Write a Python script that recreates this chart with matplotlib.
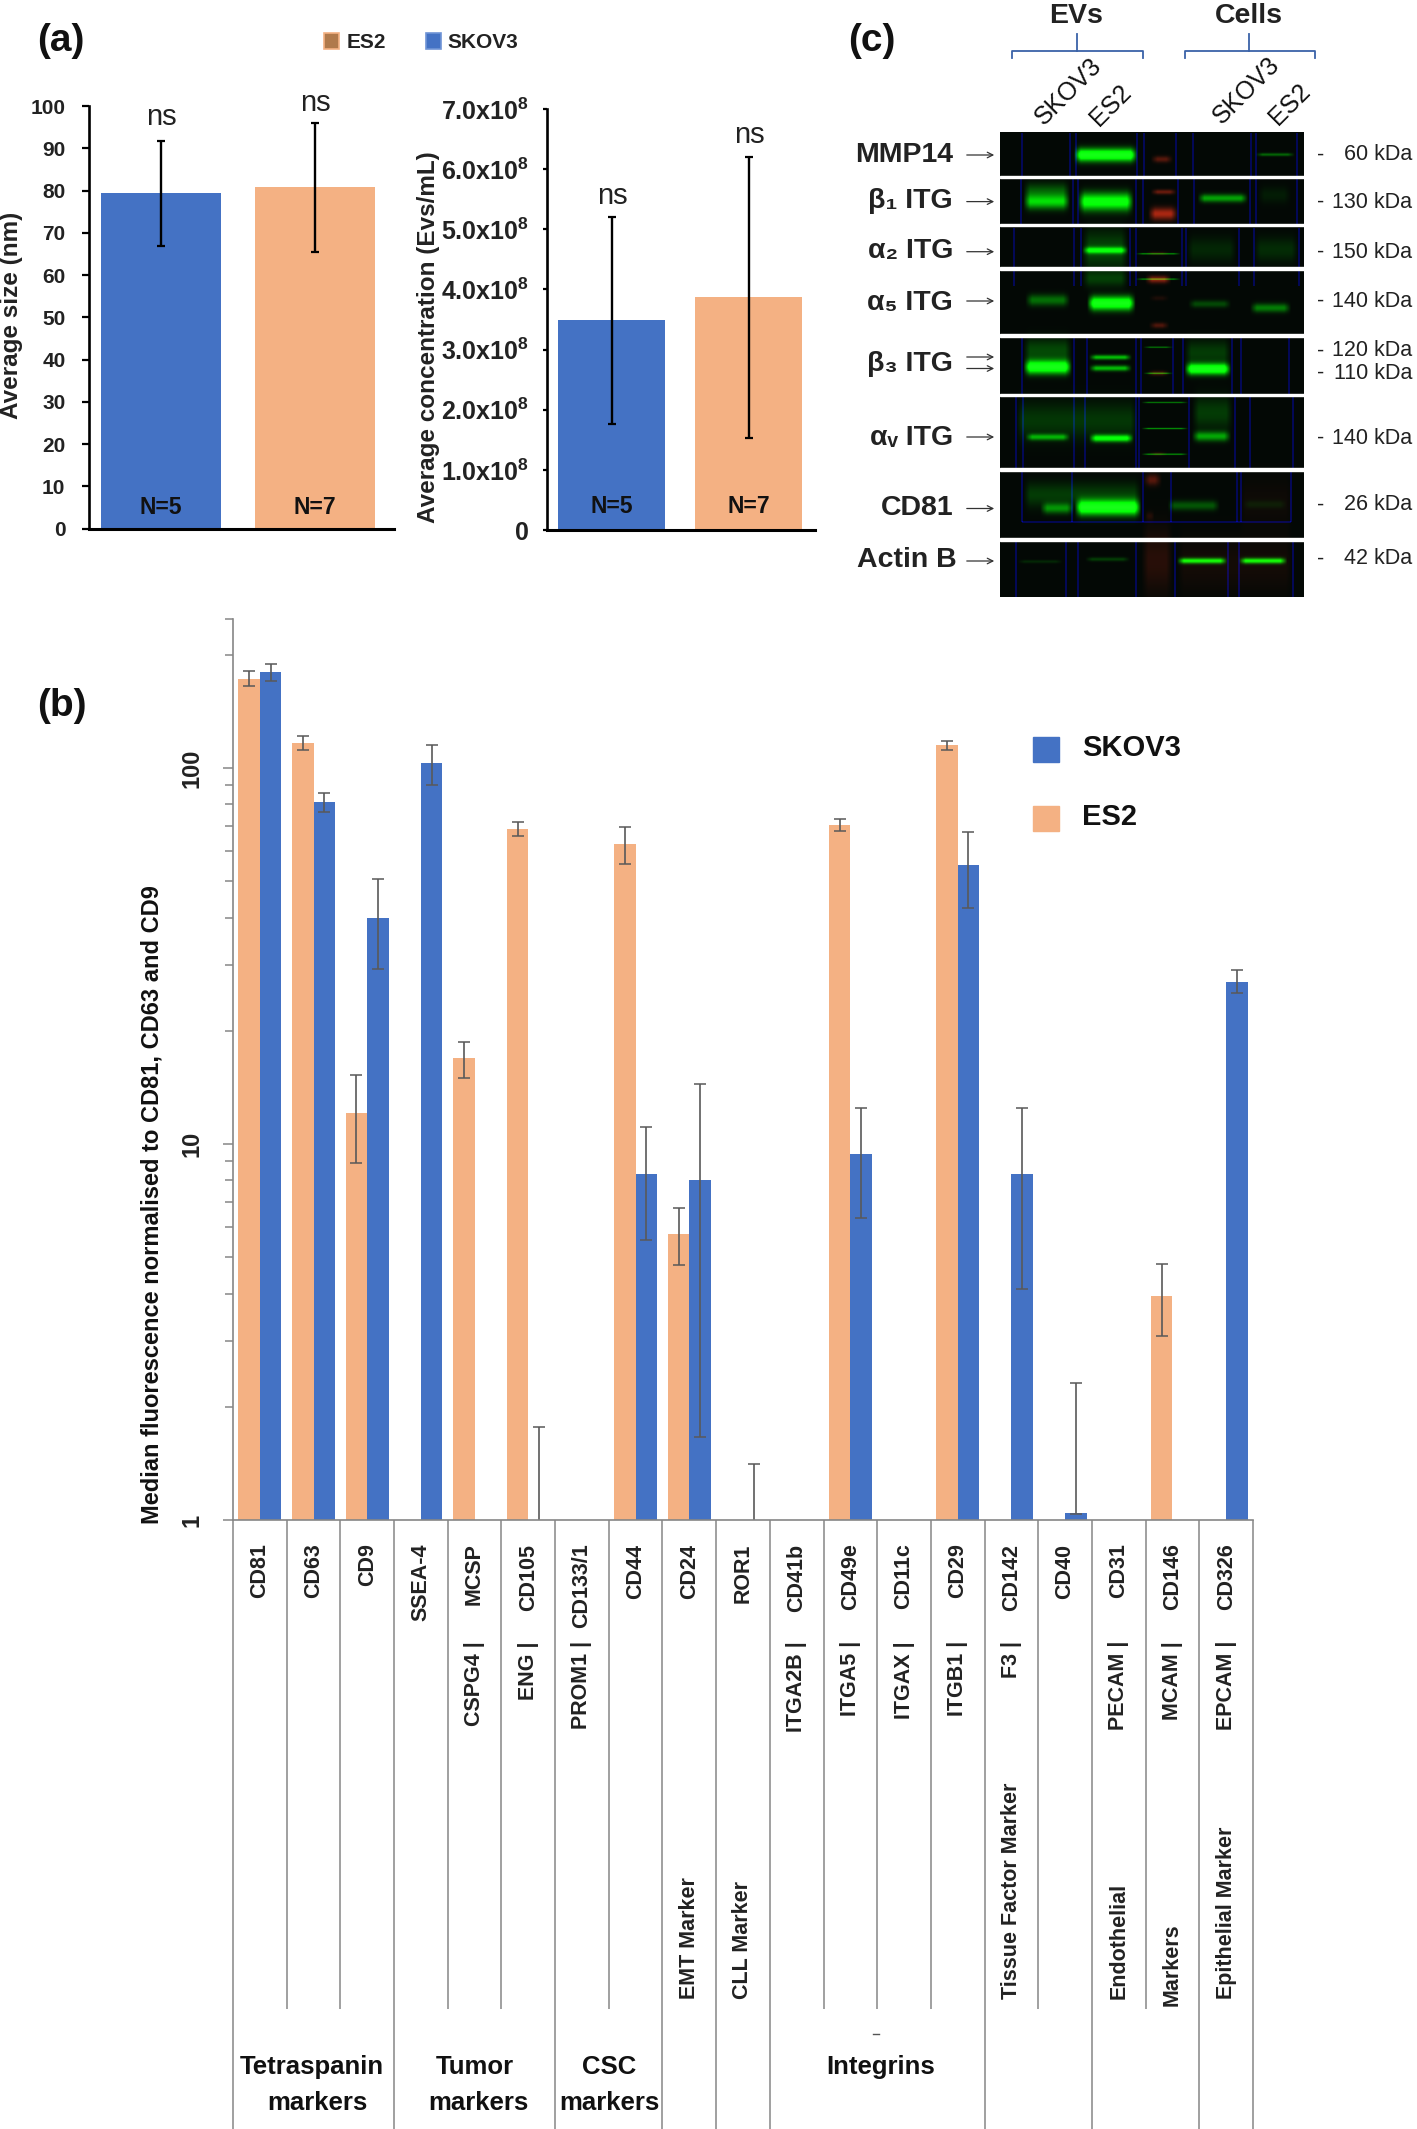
import numpy as np
import matplotlib
matplotlib.use("Agg")
import matplotlib.pyplot as plt
from matplotlib.patches import Rectangle

W, H = 1417, 2129
ARIAL = ['Liberation Sans', 'DejaVu Sans']
BLUE = '#4472C4'
ORANGE = '#F4B183'

plt.rcParams['font.family'] = ARIAL
plt.rcParams['mathtext.fontset'] = 'custom'
plt.rcParams['mathtext.rm'] = 'Liberation Sans:bold'
plt.rcParams['mathtext.default'] = 'rm'

# panel a
lines_a = ['SKOV3', 'ES2']
n_labels = ['N=5', 'N=7']
size_mean = [79.5, 80.8]
size_hi = [91.6, 95.9]
size_lo = [66.9, 65.5]
conc_mean = [3.49, 3.87]
conc_hi = [5.21, 6.20]
conc_lo = [1.77, 1.53]
conc_ticks = ['0', '1.0x10$^8$', '2.0x10$^8$', '3.0x10$^8$', '4.0x10$^8$',
              '5.0x10$^8$', '6.0x10$^8$', '7.0x10$^8$']

# panel b, nan = no bar, values under 1 are off the log axis
markers = ['CD81', 'CD63', 'CD9', 'SSEA-4', 'MCSP', 'CD105', 'CD133/1', 'CD44', 'CD24', 'ROR1',
           'CD41b', 'CD49e', 'CD11c', 'CD29', 'CD142', 'CD40', 'CD31', 'CD146', 'CD326']
genes = ['', '', '', '', 'CSPG4 |', 'ENG |', 'PROM1 |', '', '', '',
         'ITGA2B |', 'ITGA5 |', 'ITGAX |', 'ITGB1 |', 'F3 |', '', 'PECAM |', 'MCAM |', 'EPCAM |']
classes = ['', '', '', '', '', '', '', '', 'EMT Marker', 'CLL Marker',
           '', '', '', '', 'Tissue Factor Marker', '', 'Endothelial', 'Markers', 'Epithelial Marker']
nan = float('nan')
es2 = [172.5, 116.5, 12.1, nan, 16.9, 68.7, nan, 62.7, 5.75, nan,
       nan, 70.6, nan, 114.9, nan, nan, nan, 3.94, nan]
es2_hi = [180.6, 121.3, 15.3, nan, 18.7, 71.8, nan, 69.5, 6.76, nan,
          nan, 73.3, nan, 118.0, nan, nan, nan, 4.81, nan]
es2_lo = [165.0, 111.3, 8.9, nan, 15.0, 65.8, nan, 55.7, 4.76, nan,
          nan, 68.1, nan, 111.6, nan, nan, nan, 3.09, nan]
skov3 = [180.0, 81.3, 39.9, 102.8, nan, 0.8, nan, 8.3, 8.0, 0.7,
         nan, 9.42, nan, 55.2, 8.3, 1.044, nan, nan, 27.0]
skov3_hi = [188.6, 85.9, 50.6, 114.9, nan, 1.77, nan, 11.07, 14.4, 1.41,
            nan, 12.5, nan, 67.6, 12.5, 2.31, nan, nan, 29.0]
skov3_lo = [170.0, 76.4, 29.2, 90.0, nan, 0.6, nan, 5.55, 1.66, 0.5,
            nan, 6.37, nan, 42.4, 4.12, 1.04, nan, nan, 25.2]
long_seps = [0, 3, 6, 8, 9, 10, 14, 16, 18, 19]
short_seps = [1, 2, 4, 5, 7, 11, 12, 13, 15, 17]

# panel c
blot_rows = ['MMP14', 'β₁ ITG', 'α₂ ITG', 'α₅ ITG', 'β₃ ITG', 'αᵥ ITG', 'CD81', 'Actin B']
kda = ['60 kDa', '130 kDa', '150 kDa', '140 kDa', '120 kDa', '110 kDa', '140 kDa', '26 kDa', '42 kDa']

# blot is measured on a crop: x0, x1, y, half height, strength
green_bands = [
    (650, 820, 397, 16, 1.3), (1135, 1240, 396, 4, 0.35),
    (515, 640, 517, 18, 0.8), (515, 640, 490, 20, 0.3), (660, 810, 517, 22, 1.1), (980, 1115, 508, 10, 0.6),
    (1140, 1230, 500, 20, 0.08),
    (672, 795, 642, 8, 0.9), (672, 795, 640, 45, 0.25), (672, 795, 715, 20, 0.2), (815, 935, 651, 1.5, 0.5),
    (950, 1085, 640, 30, 0.12), (1130, 1250, 640, 30, 0.14), (815, 935, 716, 2, 0.5),
    (520, 640, 770, 14, 0.4), (685, 815, 778, 17, 1.3), (955, 1070, 780, 9, 0.25), (1120, 1230, 790, 11, 0.45),
    (515, 645, 942, 17, 1.3), (690, 805, 917, 6, 0.7), (690, 805, 945, 7, 0.7), (945, 1070, 947, 14, 1.3),
    (835, 915, 891, 1.5, 0.4), (835, 915, 958, 2, 0.5), (515, 645, 900, 30, 0.25), (945, 1070, 905, 30, 0.2),
    (520, 640, 1122, 8, 0.6), (690, 810, 1125, 9, 1.0), (965, 1070, 1120, 12, 0.6),
    (830, 955, 1033, 1.5, 0.4), (830, 955, 1100, 2, 0.5), (830, 955, 1166, 2, 0.5),
    (495, 820, 1080, 45, 0.18), (965, 1075, 1060, 40, 0.2),
    (560, 650, 1305, 13, 0.5), (652, 830, 1303, 19, 1.3), (900, 1040, 1298, 12, 0.3), (1100, 1220, 1295, 10, 0.08),
    (515, 830, 1270, 30, 0.2),
    (500, 620, 1442, 4, 0.12), (680, 800, 1436, 5, 0.2), (925, 1060, 1440, 7, 0.95), (1090, 1220, 1440, 7, 0.95),
]
red_bands = [
    (855, 925, 492, 6, 0.6), (848, 928, 548, 15, 1.0), (855, 915, 408, 8, 0.5), (840, 910, 717, 9, 0.8),
    (842, 905, 650, 4, 0.25), (850, 905, 835, 7, 0.45), (850, 905, 765, 6, 0.15), (845, 905, 958, 6, 0.4),
    (850, 900, 1165, 4, 0.25), (835, 885, 1232, 14, 0.5), (840, 865, 1325, 10, 0.4), (830, 915, 1440, 80, 0.22),
    (925, 1235, 1450, 70, 0.1), (1090, 1235, 1290, 60, 0.07),
]
lane_rows = [
    (340, 455, [510, 640, 655, 818, 838, 922, 968, 1122, 1135, 1245]),
    (460, 578, [508, 648, 660, 815, 835, 928, 970, 1120, 1135, 1245]),
    (585, 735, [490, 650, 668, 800, 815, 938, 950, 1090, 1130, 1250]),
    (868, 1015, [510, 650, 685, 815, 830, 915, 940, 1072, 1095, 1225]),
    (1020, 1207, [495, 515, 650, 680, 815, 825, 958, 1080, 1120, 1235]),
    (1212, 1340, [510, 645, 835, 910, 1085, 1095, 1230]),
    (1390, 1535, [495, 630, 660, 815, 920, 1060, 1090, 1235]),
]
white_rows = [455, 578, 690, 862, 1015, 1207, 1387]


def cx(z):
    return 830 + z / 2.67


def cy(z):
    return z / 2.57


fig = plt.figure(figsize=(W / 100, H / 100), dpi=100)


def px_axes(l, r, t, b):
    return fig.add_axes([l / W, 1 - b / H, (r - l) / W, (b - t) / H])


def bar_panel(ax, means, hi, lo, ticks, labels, ylim, xlim, label_frac, tick_size):
    x = np.arange(2)
    ax.bar(x, means, width=0.78, color=[BLUE, ORANGE])
    means = np.array(means)
    yerr = [means - np.array(lo), np.array(hi) - means]
    ax.errorbar(x, means, yerr=yerr, fmt='none', ecolor='black', elinewidth=1.7, capsize=3, capthick=1.6)
    ax.set_xlim(*xlim)
    ax.set_ylim(*ylim)
    ax.set_xticks([])
    ax.set_yticks(ticks)
    ax.set_yticklabels(labels, fontsize=tick_size, fontweight='bold', color='#222222')
    ax.spines[['top', 'right']].set_visible(False)
    ax.spines['left'].set_linewidth(1.9)
    ax.spines['bottom'].set_linewidth(2.2)
    for i, txt in enumerate(n_labels):
        ax.text(i, label_frac, txt, transform=ax.get_xaxis_transform(), ha='center', va='center',
                fontsize=16.5, fontweight='bold', color='#111111')


# panel a left
ax1 = px_axes(89, 394, 106, 528.6)
bar_panel(ax1, size_mean, size_hi, size_lo, list(range(0, 101, 10)), [str(v) for v in range(0, 101, 10)],
          (0, 100), (-0.466, 1.515), 0.051, 15)
ax1.tick_params(axis='y', length=5, width=1.6, pad=12)

# panel a right
ax2 = px_axes(547, 815, 109, 530)
bar_panel(ax2, conc_mean, conc_hi, conc_lo, list(range(8)), conc_ticks, (0, 7), (-0.473, 1.486), 0.055, 18)
ax2.tick_params(axis='y', length=3, width=1.6, pad=10)

# panel b
ax3 = px_axes(233, 1253, 619, 1520)
xc = np.arange(len(markers)) + 0.5
es2_v, skov3_v = np.array(es2), np.array(skov3)
ax3.bar(xc - 0.2, es2_v, width=0.4, color=ORANGE)
ax3.bar(xc + 0.2, skov3_v, width=0.4, color=BLUE)
ax3.errorbar(xc - 0.2, es2_v, yerr=[es2_v - np.array(es2_lo), np.array(es2_hi) - es2_v], fmt='none',
             ecolor='#595959', elinewidth=1.2, capsize=4, capthick=1.1)
ax3.errorbar(xc + 0.2, skov3_v, yerr=[skov3_v - np.array(skov3_lo), np.array(skov3_hi) - skov3_v], fmt='none',
             ecolor='#595959', elinewidth=1.2, capsize=4, capthick=1.1)
ax3.set_yscale('log')
ax3.set_xlim(0, len(markers))
ax3.set_ylim(1, 249)
ax3.spines[['top', 'right']].set_visible(False)
ax3.spines['left'].set_color('#868686')
ax3.spines['bottom'].set_color('#868686')
ax3.spines['left'].set_linewidth(1.2)
ax3.spines['bottom'].set_linewidth(1.2)
ax3.set_yticks([1, 10, 100])
ax3.set_yticklabels(['1', '10', '100'], rotation=90, va='center', fontsize=17, fontweight='bold', color='#222222')
ax3.set_yticks([2, 3, 4, 5, 6, 7, 8, 9, 20, 30, 40, 50, 60, 70, 80, 90, 200, 249], minor=True)
ax3.yaxis.set_minor_formatter(matplotlib.ticker.NullFormatter())
ax3.tick_params(axis='y', which='major', length=7, width=1.1, color='#868686', pad=14)
ax3.tick_params(axis='y', which='minor', length=5.5, width=1.1, color='#868686')
ax3.set_xticks(xc)
ax3.set_xticklabels(markers, rotation=90, ha='center', va='top', fontsize=15.5, fontweight='bold', color='#222222')
ax3.tick_params(axis='x', length=0, pad=17)


def frac(y):
    return (1520 - y) / 901


trans = ax3.get_xaxis_transform()
ax3.vlines(long_seps, frac(2129), 0, transform=trans, colors='#868686', lw=1.1, clip_on=False)
ax3.vlines(short_seps, frac(2009), 0, transform=trans, colors='#868686', lw=1.1, clip_on=False)
for i, g in enumerate(genes):
    if g:
        ax3.text(xc[i], frac(1641), g, transform=trans, rotation=90, ha='center', va='top',
                 fontsize=15.5, fontweight='bold', color='#222222')
for i, c in enumerate(classes):
    if c:
        bottom = 2006 if c == 'Markers' else 1999
        ax3.text(xc[i], frac(bottom), c, transform=trans, rotation=90, ha='center', va='bottom',
                 fontsize=15.5, fontweight='bold', color='#222222')

# everything else is placed in figure pixels
ov = fig.add_axes([0, 0, 1, 1], facecolor='none')

# western blot
bw, bh = 304, 465
gy, gx = np.mgrid[0:bh, 0:bw]
gx = gx + 1000.0
gy = gy + 132.0
green = np.full((bh, bw), 0.03)
red = np.full((bh, bw), 0.02)
blue = np.full((bh, bw), 0.02)


def band(x0, x1, y, h, s):
    left = np.clip((gx - cx(x0)) / 7.0, 0, 1)
    right = np.clip((cx(x1) - gx) / 7.0, 0, 1)
    return s * left * right * np.exp(-((gy - cy(y)) / max(h / 2.57, 0.8)) ** 2)


for b in green_bands:
    green += band(*b)
for b in red_bands:
    red += band(*b)
for top, bottom, lanes in lane_rows:
    for z in lanes:
        mask = (np.abs(gx - cx(z)) < 1.0) & (gy > cy(top)) & (gy < cy(bottom))
        blue[mask] += 0.32
mask = (np.abs(gy - cy(1340)) < 0.8) & (gx > cx(510)) & (gx < cx(1230))
blue[mask] += 0.3
over = np.clip(green - 1.0, 0, 1)
rgb = np.dstack([np.clip(red * 0.65 + over * 0.2, 0, 0.7),
                 np.clip(green + red * 0.12, 0, 1),
                 np.clip(blue + red * 0.05 + over * 0.2, 0, 1)])
ov.imshow(rgb, extent=(1000, 1304, 597, 132), aspect='auto', interpolation='bilinear', zorder=1)
for z in white_rows:
    ov.add_patch(Rectangle((1000, cy(z) - 1.2), 304, 2.6, color='white', zorder=2))
ov.set_xlim(0, W)
ov.set_ylim(H, 0)
ov.axis('off')

# panel letters
for txt, x, y in [('(a)', 37, 41), ('(b)', 37, 706), ('(c)', 848, 41)]:
    ov.text(x, y, txt, fontsize=28, fontweight='bold', ha='left', va='center', color='#111111')

# legend a
for x, col, edge, name, tx in [(324, '#B07A4C', ORANGE, lines_a[1], 347), (426, BLUE, '#6F94D6', lines_a[0], 447)]:
    ov.add_patch(Rectangle((x, 33), 15, 16, facecolor=col, edgecolor=edge, lw=1.2))
    ov.text(tx, 42, name, fontsize=15, fontweight='bold', ha='left', va='center', color='#222222')

for x, y, in [(161, 117), (315, 103), (612, 196), (749, 135)]:
    ov.text(x, y, 'ns', fontsize=21, ha='center', va='center', color='#222222')

ov.text(12, 315, 'Average size (nm)', fontsize=17.5, fontweight='bold', rotation=90,
        ha='center', va='center', color='#222222')
ov.text(429, 337, 'Average concentration (Evs/mL)', fontsize=17.5, fontweight='bold', rotation=90,
        ha='center', va='center', color='#222222')

# legend b
for y, col, name in [(737, BLUE, 'SKOV3'), (806, ORANGE, 'ES2')]:
    ov.add_patch(Rectangle((1033, y), 26, 25, color=col))
    ov.text(1082, y + 11, name, fontsize=21, fontweight='bold', ha='left', va='center', color='#111111')

ov.text(152, 1205, 'Median fluorescence normalised to CD81, CD63 and CD9', fontsize=17, fontweight='bold',
        rotation=90, ha='center', va='center', color='#111111')

# group names under panel b
for x, y, txt in [(312, 2067, 'Tetraspanin'), (317, 2103, 'markers'), (475, 2067, 'Tumor'), (478, 2103, 'markers'),
                  (609, 2067, 'CSC'), (609, 2103, 'markers'), (881, 2067, 'Integrins')]:
    ov.text(x, y, txt, fontsize=18.5, fontweight='bold', ha='center', va='center', color='#111111')
ov.plot([873, 879], [2034, 2034], color='#555555', lw=1)

# panel c text
for z, txt in [(657, 'EVs'), (1118, 'Cells')]:
    ov.text(cx(z), 16, txt, fontsize=20.5, fontweight='bold', ha='center', va='center', color='#222222')
for z0, z1, stem in [(487, 835, 660), (948, 1295, 1120)]:
    ov.plot([cx(z0), cx(z0), cx(z1), cx(z1)], [57.5, 50.5, 50.5, 57.5], color='#3A62A8', lw=1.3)
    ov.plot([cx(stem), cx(stem)], [34, 50.5], color='#3A62A8', lw=1.3)
for x, y, txt in [(1068, 92, 'SKOV3'), (1111, 105, 'ES2'), (1246, 91, 'SKOV3'), (1290, 104, 'ES2')]:
    ov.text(x, y, txt, fontsize=18, rotation=45, ha='center', va='center', color='#111111')

for name, y, right in zip(blot_rows, [155, 201, 251, 303, 364, 438, 508, 560], [953, 953, 953, 953, 953, 953, 953, 957]):
    ov.text(right, y, name, fontsize=20.5, fontweight='bold', ha='right', va='center', color='#222222')
for y in [155, 201.6, 251.7, 301, 357, 368.5, 437, 508.5, 561]:
    ov.annotate('', xy=(997, y), xytext=(964, y), arrowprops=dict(arrowstyle='->', color='#333333', lw=0.9))
for name, y in zip(kda, [155, 202, 252, 301.5, 351, 373.5, 438, 505, 559]):
    ov.text(1412, y, name, fontsize=15.5, ha='right', va='center', color='#222222')
    ov.text(1321, y, '-', fontsize=15.5, ha='center', va='center', color='#222222')

fig.savefig('out.png', dpi=100)
